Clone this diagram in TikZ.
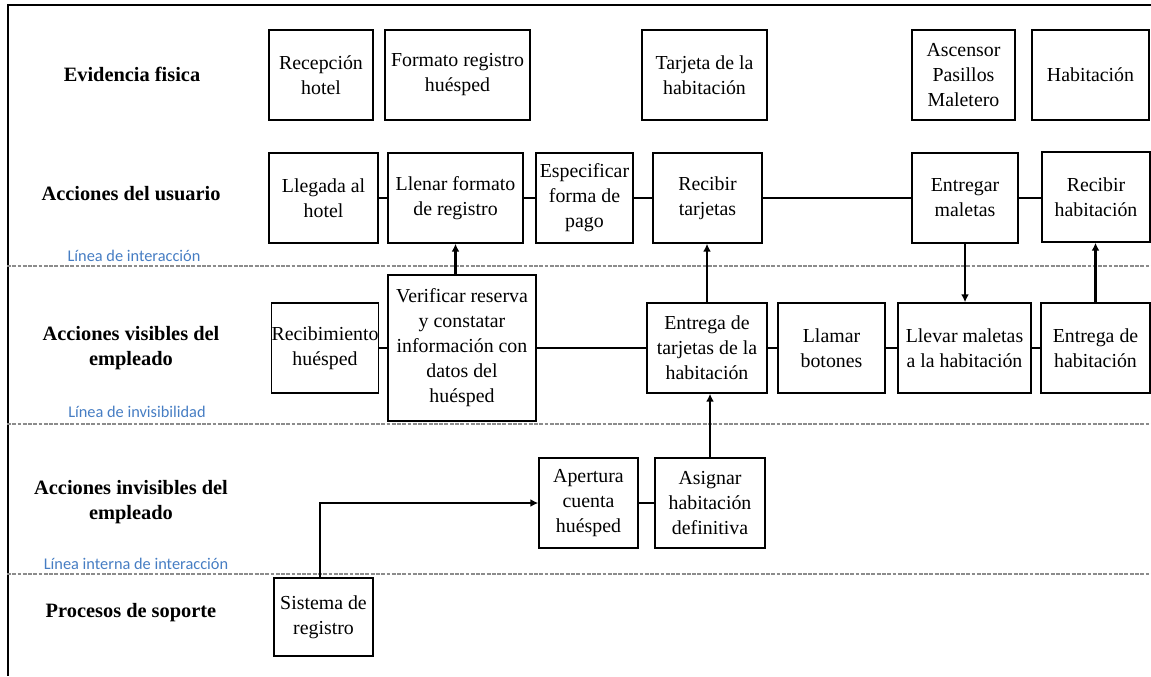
\documentclass[tikz,border=0pt]{standalone}
\usepackage{fontspec}
\setmainfont{Liberation Serif}
\newfontfamily\linefont{Carlito}
\usetikzlibrary{arrows.meta}
\definecolor{linecol}{RGB}{70,125,195}
\definecolor{sepgray}{RGB}{140,140,140}

% \stage{name}{x1}{y1}{x2}{y2}{text}: a framed step spanning the given corners
\newcommand\stage[6]{%
  \node[box, minimum width={(#4-#2)*0.02cm}, minimum height={(#5-#3)*0.02cm}]
    (#1) at ({(#2+#4)/2},{(#3+#5)/2}) {#6};}

\begin{document}
\begin{tikzpicture}[x=0.02cm,y=-0.02cm,
  box/.style={draw, line width=0.85pt, inner sep=0pt, align=center,
              font=\rmfamily\fontsize{11.3}{14.2}\selectfont},
  lane/.style={align=center, inner sep=0pt,
               font=\rmfamily\bfseries\fontsize{11.6}{14.2}\selectfont},
  sepline/.style={draw=sepgray, line width=1.1pt, dash pattern=on 2.2pt off 0.8pt},
  tag/.style={text=linecol, inner sep=0pt, font=\linefont\fontsize{9.3}{11}\selectfont},
  link/.style={line width=1.5pt},
  arr/.style={link, -{Latex[length=4.5pt,width=4.5pt]}}]

\useasboundingbox (0,0) rectangle (1151,676);

% frame
\draw[line width=0.8pt] (7,5) -- (1151,5);
\draw[line width=0.8pt] (8,5) -- (8,676);

% lane separators
\draw[sepline] (7,266) -- (1151,266);
\draw[sepline] (7,424) -- (1151,424);
\draw[sepline] (7,574) -- (1151,574);

% lane titles
\node[lane] (l1) at (132,74)  {Evidencia fisica};
\node[lane] (l2) at (131,194) {Acciones del usuario};
\node[lane] (l3) at (131,348) {Acciones visibles del\\empleado};
\node[lane] (l4) at (131,502) {Acciones invisibles del\\empleado};
\node[lane] (l5) at (131,613) {Procesos de soporte};

% line names
\node[tag] (t1) at (134,256) {Línea de interacción};
\node[tag] (t2) at (137,412) {Línea de invisibilidad};
\node[tag] (t3) at (136,564) {Línea interna de interacción};

% physical evidence
\stage{ev1}{269}{30}{373}{120}{Recepción\\hotel}
\stage{ev2}{385}{30}{530}{120}{Formato registro\\huésped}
\stage{ev3}{642}{30}{767}{120}{Tarjeta de la\\habitación}
\stage{ev4}{912}{30}{1015}{120}{Ascensor\\Pasillos\\Maletero}
\stage{ev5}{1032}{30}{1149}{120}{Habitación}

% user actions
\stage{ua1}{269}{153}{378}{243}{Llegada al\\hotel}
\stage{ua2}{388}{153}{523}{243}{Llenar formato\\de registro}
\stage{ua3}{536}{153}{633}{243}{Especificar\\forma de\\pago}
\stage{ua4}{653}{153}{762}{243}{Recibir\\tarjetas}
\stage{ua5}{912}{153}{1018}{243}{Entregar\\maletas}
\stage{ua6}{1042}{152}{1150}{242}{Recibir\\habitación}

% visible employee actions
\stage{ve1}{272}{303}{378}{393}{Recibimiento\\huésped}
\stage{ve2}{388}{275}{536}{421}{Verificar reserva\\y constatar\\información con\\datos del\\huésped}
\stage{ve3}{647}{303}{767}{393}{Entrega de\\tarjetas de la\\habitación}
\stage{ve4}{778}{303}{885}{393}{Llamar\\botones}
\stage{ve5}{898}{303}{1031}{393}{Llevar maletas\\a la habitación}
\stage{ve6}{1041}{303}{1150}{393}{Entrega de\\habitación}

% invisible employee actions
\stage{ie1}{539}{458}{638}{548}{Apertura\\cuenta\\huésped}
\stage{ie2}{655}{458}{765}{548}{Asignar\\habitación\\definitiva}

% support processes
\stage{sp1}{274}{578}{373}{656}{Sistema de\\registro}

% horizontal links
\draw[link] (ua1.east) -- (ua2.west);
\draw[link] (ua2.east) -- (ua3.west);
\draw[link] (ua3.east) -- (ua4.west);
\draw[link] (ua4.east) -- (ua5.west);
\draw[link] (ua5.east) -- (ua5.east -| ua6.west);
\draw[link] (ve1.east) -- (ve2.west);
\draw[link] (ve2.east) -- (ve3.west);
\draw[link] (ve3.east) -- (ve4.west);
\draw[link] (ve4.east) -- (ve5.west);
\draw[link] (ve5.east) -- (ve6.west);
\draw[link] (ie1.east) -- (ie2.west);

% vertical flows
\draw[arr] (ua2.south |- ve2.north) -- (ua2.south);
\draw[arr] (ve3.north) -- (ve3.north |- ua4.south);
\draw[arr] (ie2.north) -- (ie2.north |- ve3.south);
\draw[arr] (ua5.south) -- (ua5.south |- ve5.north);
\draw[arr] (ve6.north) -- (ve6.north |- ua6.south);
\draw[arr] (sp1.north -| 320,0) |- (ie1.west);

\end{tikzpicture}
\end{document}
